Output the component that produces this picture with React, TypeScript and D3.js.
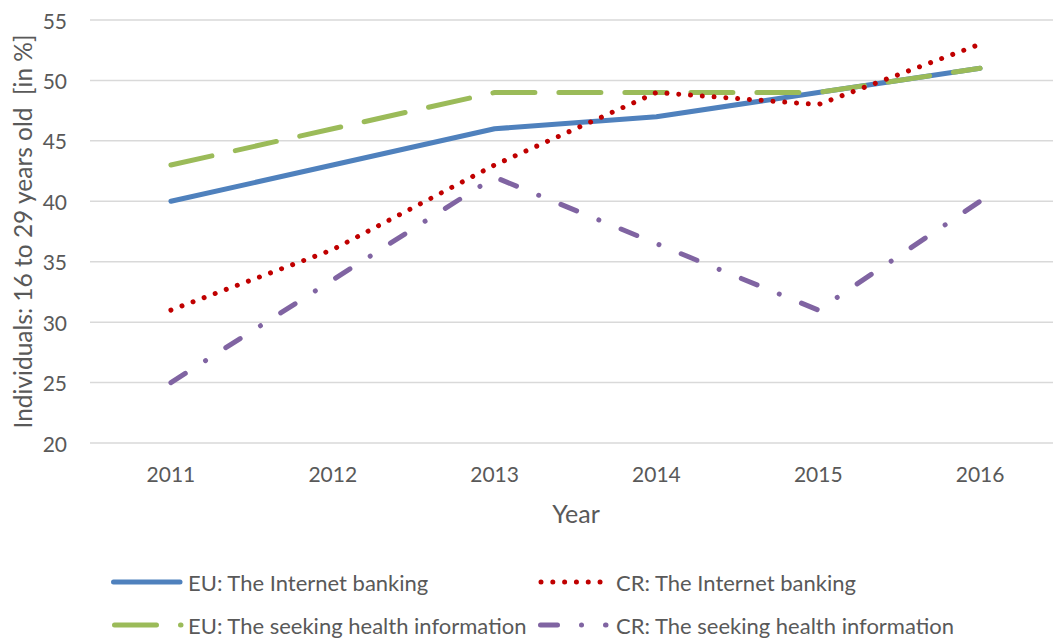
import React from "react";
import * as d3 from "d3";

const years = ["2011", "2012", "2013", "2014", "2015", "2016"];
const euBanking = [40, 43, 46, 47, 49, 51];
const crBanking = [31, 36, 43, 49, 48, 53];
const euHealth = [43, 46, 49, 49, 49, 51];
const crHealth = [25, 33.5, 42, 36.5, 31, 40];
const yTicks = [20, 25, 30, 35, 40, 45, 50, 55];

const W = 1053;
const H = 638;
const FONT = "Lato, 'Open Sans', sans-serif";
const TEXT = "#595959";

const seriesList = [
  { name: "EU: The Internet banking", values: euBanking, color: "#4F81BD", dash: "none" },
  { name: "CR: The Internet banking", values: crBanking, color: "#C00000", dash: "0.01 11.8" },
  { name: "EU: The seeking health information", values: euHealth, color: "#9BBB59", dash: "42 24" },
  { name: "CR: The seeking health information", values: crHealth, color: "#8064A2", dash: "17 24 0.01 24" },
];

export default function App() {
  const x = d3.scaleBand<string>().domain(years).range([90, 1061]).padding(0);
  const y = d3.scaleLinear().domain([20, 55]).range([443, 20]);
  const cx = (c: string) => (x(c) as number) + x.bandwidth() / 2;
  const line = d3
    .line<number>()
    .x((_, i) => cx(years[i]))
    .y((d) => y(d));

  const drawOrder = [0, 2, 1, 3];
  const legendPos = [
    { x1: 113.5, x2: 180, ty: 582, tx: 188 },
    { x1: 541, x2: 601, ty: 582, tx: 616 },
    { x1: 114.5, x2: 181, ty: 625, tx: 188 },
    { x1: 540.5, x2: 606, ty: 625, tx: 616 },
  ];

  return (
    <svg
      width={W}
      height={H}
      style={{ position: "absolute", left: 0, top: 0, background: "#fff" }}
      fontFamily={FONT}
    >
      {yTicks.map((t) => (
        <g key={t}>
          <line x1={90} x2={1061} y1={y(t)} y2={y(t)} stroke="#D9D9D9" strokeWidth={1.5} />
          <text x={67} y={y(t)} textAnchor="end" dominantBaseline="central" fontSize={21} fill={TEXT}>
            {t}
          </text>
        </g>
      ))}
      {years.map((c) => (
        <text key={c} x={cx(c)} y={473} textAnchor="middle" dominantBaseline="central" fontSize={21} fill={TEXT}>
          {c}
        </text>
      ))}
      <text x={576} y={513} textAnchor="middle" dominantBaseline="central" fontSize={25} fill={TEXT}>
        Year
      </text>
      <text
        transform={`translate(22, ${(y(20) + y(55)) / 2}) rotate(-90)`}
        textAnchor="middle"
        dominantBaseline="central"
        fontSize={24.5}
        fill={TEXT}
        style={{ whiteSpace: "pre" }}
      >
        {"Individuals: 16 to 29 years old  [in %]"}
      </text>
      {drawOrder.map((i) => {
        const s = seriesList[i];
        return (
          <path
            key={s.name}
            d={line(s.values) as string}
            fill="none"
            stroke={s.color}
            strokeWidth={5}
            strokeLinecap="round"
            strokeLinejoin="round"
            strokeDasharray={s.dash}
          />
        );
      })}
      {seriesList.map((s, i) => {
        const p = legendPos[i];
        return (
          <g key={s.name}>
            <line
              x1={p.x1}
              x2={p.x2}
              y1={p.ty}
              y2={p.ty}
              stroke={s.color}
              strokeWidth={5}
              strokeLinecap="round"
              strokeDasharray={s.dash}
            />
            <text x={p.tx} y={p.ty} dominantBaseline="central" fontSize={22} fill={TEXT}>
              {s.name}
            </text>
          </g>
        );
      })}
    </svg>
  );
}
